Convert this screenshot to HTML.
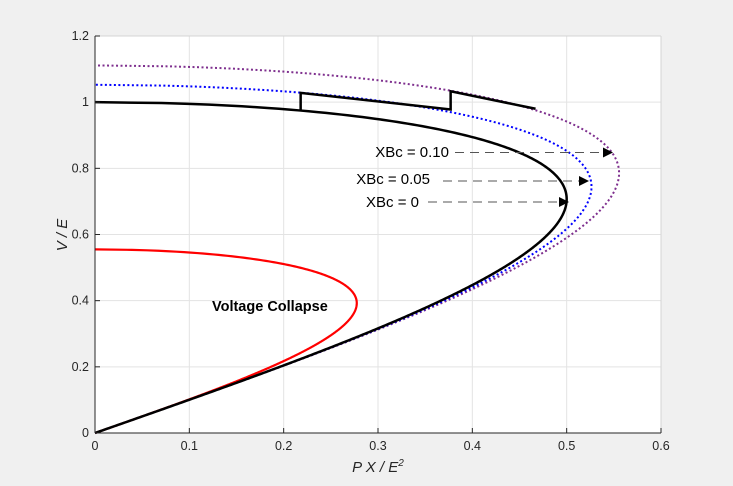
<!DOCTYPE html>
<html><head><meta charset="utf-8"><style>
html,body{margin:0;padding:0;background:#f0f0f0;}
svg{display:block;font-family:"Liberation Sans",sans-serif;}
</style></head><body>
<svg id="s" width="733" height="486" viewBox="0 0 733 486" xmlns="http://www.w3.org/2000/svg">
<rect x="0" y="0" width="733" height="486" fill="#f0f0f0"/>
<rect x="95" y="36" width="566" height="397" fill="#fff"/>
<g id="grid" stroke="#e3e3e3" stroke-width="1"></g>
<g id="curves" fill="none"></g>
<line x1="95" y1="36" x2="661" y2="36" stroke="#d4d4d4"/>
<line x1="661" y1="36" x2="661" y2="433" stroke="#d4d4d4"/>
<line x1="95" y1="36" x2="95" y2="433" stroke="#262626"/>
<line x1="95" y1="433" x2="661" y2="433" stroke="#262626"/>
<g id="ticks" stroke="#262626" stroke-width="1"></g>
<g id="labels" font-size="12.5" fill="#262626"></g>
<text x="378" y="472" font-size="15" font-style="italic" text-anchor="middle" fill="#262626">P X / E<tspan font-size="10" dy="-6">2</tspan></text>
<text transform="translate(67,235) rotate(-90)" font-size="15" font-style="italic" text-anchor="middle" fill="#262626">V / E</text>
<text x="212" y="311" font-size="14.5" font-weight="bold" fill="#000">Voltage Collapse</text>
<g font-size="15" fill="#000">
<text x="449" y="157" text-anchor="end">XBc = 0.10</text>
<text x="430" y="184" text-anchor="end">XBc = 0.05</text>
<text x="419" y="207" text-anchor="end">XBc = 0</text>
</g>
<g stroke="#555" stroke-width="1" stroke-dasharray="9,6">
<line x1="455" y1="152.5" x2="606" y2="152.5"/>
<line x1="443" y1="181" x2="582" y2="181"/>
<line x1="428" y1="202" x2="563" y2="202"/>
</g>
<g fill="#000">
<polygon points="613,152.5 603,147.5 603,157.5"/>
<polygon points="589,181 579,176 579,186"/>
<polygon points="569,202 559,197 559,207"/>
</g>
</svg>
<script>
var X0=95,X1=661,Y0=433,Y1=36;
function px(p){return X0+p/0.6*(X1-X0);}
function py(v){return Y0-v/1.2*(Y0-Y1);}
var ns="http://www.w3.org/2000/svg";
function el(t,a,par){var e=document.createElementNS(ns,t);for(var k in a)e.setAttribute(k,a[k]);document.getElementById(par).appendChild(e);return e;}
for(var i=1;i<6;i++){var x=px(i*0.1);el("line",{x1:x,y1:Y1,x2:x,y2:Y0},"grid");}
for(var i=1;i<6;i++){var y=py(i*0.2);el("line",{x1:X0,y1:y,x2:X1,y2:y},"grid");}
for(var i=0;i<=6;i++){var x=px(i*0.1);el("line",{x1:x,y1:Y0,x2:x,y2:Y0-5},"ticks");
 var t=el("text",{x:x,y:Y0+17,"text-anchor":"middle"},"labels");t.textContent=i==0?"0":(i/10).toString();}
for(var i=0;i<=6;i++){var y=py(i*0.2);el("line",{x1:X0,y1:y,x2:X0+5,y2:y},"ticks");
 var t=el("text",{x:X0-6,y:y+4,"text-anchor":"end"},"labels");t.textContent=i==0?"0":(i*0.2).toFixed(1).replace(/\.0$/,"");}
function curve(k,col,w,dash){var d="";for(var j=0;j<=400;j++){var u=j/400;var v=k*u,p=k*u*Math.sqrt(Math.max(0,1-u*u));d+=(j?"L":"M")+px(p).toFixed(2)+","+py(v).toFixed(2);}
 var a={d:d,stroke:col,"stroke-width":w};if(dash){a["stroke-dasharray"]=dash;}el("path",a,"curves");}
curve(1/0.9,"#7e2f8e",2,"2,2.5");
curve(1/0.95,"#0000ff",2,"2,2.5");
curve(0.555,"#ff0000",2.2,null);
curve(1,"#000",2.5,null);
var pts=[[0.218,0.976],[0.218,1.028],[0.377,0.978],[0.377,1.033],[0.467,0.98]];
el("polyline",{points:pts.map(function(q){return px(q[0])+","+py(q[1]);}).join(" "),stroke:"#000","stroke-width":2.5,fill:"none"},"curves");
</script>
</body></html>
